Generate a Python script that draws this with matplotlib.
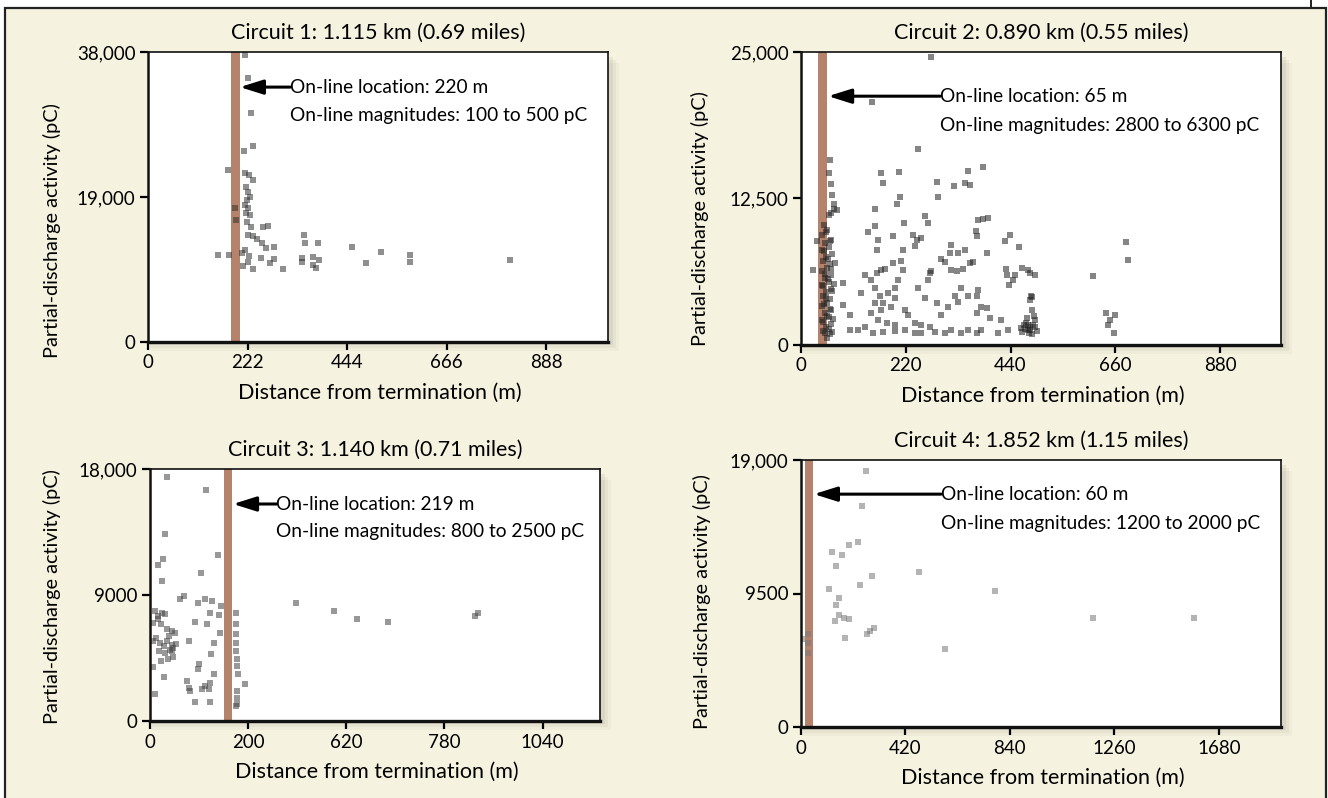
import matplotlib
matplotlib.use("Agg")
import matplotlib.pyplot as plt
from matplotlib.patches import Rectangle
from matplotlib.lines import Line2D

plt.rcParams["font.family"] = ["Lato", "DejaVu Sans"]

W, H = 1328, 798
BEIGE = "#F6F2E0"
BAR = "#B5836B"

# ---- circuit 1 ----
c1_title = "Circuit 1: 1.115 km (0.69 miles)"
c1_x = [216, 222, 230, 235, 214, 178, 216, 226, 234, 219, 222, 228, 220, 216, 224, 219, 228,
        194, 196, 220, 229, 257, 268, 222, 234, 244, 254, 263, 280, 347, 350, 380, 216, 209,
        226, 157, 181, 251, 271, 281, 300, 213, 235, 224, 344, 369, 381, 375, 369, 343,
        454, 520, 487, 585, 585, 808]
c1_y = [37600, 34640, 29960, 25680, 25030, 22540, 22180, 21880, 21220, 20350, 19700, 19040,
        18600, 17950, 17510, 16860, 16640, 17510, 16000, 15770, 15110, 15020, 15200, 14020,
        13890, 13450, 12930, 12270, 12400, 14020, 12930, 13010, 12050, 11620, 11260, 11400,
        11400, 10960, 10390, 10830, 9610, 9950, 9600, 10530, 10530, 11180, 10740, 9650, 10090,
        10960, 12500, 11800, 10300, 11400, 10500, 10700]

# ---- circuit 2 ----
c2_title = "Circuit 2: 0.890 km (0.55 miles)"
c2_x = [274, 150, 246, 168, 206, 173, 285, 322, 355, 350, 383, 208, 201, 288, 155, 260, 266,
        217, 372, 393, 155, 140, 159, 162, 194, 215, 239, 236, 253, 243, 316, 313, 330, 344,
        367, 369, 390, 428, 439, 458, 345, 382,
        169, 176, 159, 194, 211, 215, 274, 271, 295, 302, 316, 327, 341, 355, 362, 134, 148,
        89, 127, 89, 103, 155, 166, 173, 155, 183, 197, 190, 169, 197, 204,
        446, 449, 477, 491, 484, 421, 390, 397, 369, 372, 379, 369, 433, 436, 431, 464, 481,
        246, 267, 260, 285, 295, 309, 323, 330, 337, 351,
        148, 162, 180, 197, 218, 225, 239, 253,
        120, 152, 173, 197, 218, 239, 253, 281, 302, 316, 337, 351, 369, 379, 414, 435, 463,
        477, 103, 134, 271,
        473, 481, 477, 464, 492, 486, 481, 486, 481, 488, 470, 495, 485, 475, 490, 478, 492,
        468,
        614, 683, 687, 641, 649, 659, 645, 657,
        60, 58, 63, 66, 70, 75, 62, 58, 70, 26, 33,
        48, 55, 45, 62, 50, 58, 44, 65, 52, 47, 60, 55, 45, 63, 50, 58, 44, 62, 52, 47, 60,
        55, 45, 63, 50, 58, 44, 62, 52, 47, 60, 55,
        52, 60, 48, 56, 64, 50, 57, 46, 66, 53, 49, 61, 54, 47, 59, 51, 65, 68, 70, 72]
c2_y = [24600, 20700, 16750, 14700, 14800, 13780, 13900, 13550, 13640, 14810, 15210, 12640,
        11990, 12640, 11600, 11040, 10420, 10420, 10700, 10850, 10130, 9620, 8130, 8990, 9280,
        8080, 8420, 9420, 9130, 8990, 8560, 7850, 7850, 8080, 9700, 9280, 7850, 8850, 9420,
        8360, 13780, 10780,
        6420, 6480, 6140, 7000, 7130, 6420, 6280, 6140, 7330, 7050, 6420, 6280, 6480, 7000,
        7050, 5990, 5560, 5280, 4420, 3430, 2570, 4850, 4140, 3570, 3570, 4420, 4000, 3280,
        3000, 4850, 5560,
        5570, 5990, 6420, 5990, 4140, 2140, 3140, 2290, 4140, 4710, 3280, 2710, 5990, 5140,
        6500, 6590, 6160,
        4850, 5570, 4000, 3570, 2570, 3280, 4140, 3710, 4850, 4140,
        2710, 2140, 1860, 1720, 3000, 2570, 1860, 1720,
        1290, 1000, 1140, 1230, 1290, 1060, 1000, 1140, 1000, 1290, 1060, 1290, 1000, 1290,
        1000, 1290, 1430, 1720, 1290, 1570, 1570,
        1880, 1540, 1280, 1110, 2140, 3000, 3850, 4110, 1280, 1700, 1400, 1200, 900, 2300,
        2500, 1000, 1500, 1700,
        5850, 8790, 7220, 2740, 2140, 2570, 1710, 1030,
        15800, 14700, 13700, 12800, 12000, 11500, 11300, 11100, 11600, 6420, 8850,
        10200, 9800, 9400, 9000, 8700, 8400, 8100, 7800, 7500, 7200, 6900, 6600, 6300, 6000,
        5700, 5400, 5100, 4800, 4500, 4200, 3900, 3600, 3300, 3000, 2700, 2400, 2100, 1800,
        1500, 1200, 900, 600,
        9600, 8900, 8000, 7300, 6500, 6100, 5600, 5000, 4600, 4000, 3500, 3100, 2500, 2000,
        1400, 1000, 1100, 2200, 5200, 7000]

# ---- circuit 3 ----
c3_title = "Circuit 3: 1.140 km (0.71 miles)"
c3_x = [46, 149, 40, 181, 34, 22, 31, 134, 89, 80, 127, 147, 165, 187, 13, 31, 40, 22, 9, 159,
        183, 120, 150, 45, 58, 67, 185, 9, 27, 45, 58, 36, 54, 62, 103, 169, 40, 58, 49, 162,
        9, 36, 129, 126, 169, 98, 102, 107, 147, 156, 138, 160, 13, 120, 160,
        20, 28, 50, 15, 70, 25, 60, 30,
        227, 227, 227, 227, 227, 230, 230, 234, 252, 230, 230, 230, 227,
        387, 488, 549, 631, 862, 870]
c3_y = [17450, 16520, 13350, 11850, 11560, 11130, 10010, 10540, 8940, 8700, 8410, 8700, 8580,
        8180, 7870, 7750, 7630, 7270, 7030, 7750, 7580, 7080, 6960, 6550, 6440, 6320, 6320,
        5700, 5600, 5700, 5450, 5350, 5100, 5200, 5720, 5600, 4890, 5000, 4410, 4770, 3880,
        3170, 4050, 3690, 3340, 2860, 2380, 2140, 2500, 2260, 2260, 2740, 1900, 1360, 1360,
        7500, 6900, 6100, 5900, 5500, 5000, 4600, 4300,
        7680, 6910, 6200, 5600, 5000, 4410, 3930, 3340, 2620, 2140, 1670, 1190, 1070,
        8420, 7850, 7270, 7060, 7490, 7700]
c3_ticks = [0, 260, 520, 780, 1040]
c3_ticklabels = ["0", "200", "620", "780", "1040"]

# ---- circuit 4 ----
c4_title = "Circuit 4: 1.852 km (1.15 miles)"
c4_x = [263, 246, 192, 230, 124, 165, 140, 475, 286, 239, 111, 151, 140, 782, 151, 171, 192,
        138, 266, 279, 293, 176, 581, 30, 30, 30, 5, 1176, 1582]
c4_y = [18210, 15730, 12920, 13160, 12440, 12250, 11440, 11060, 10770, 10130, 9820, 9150,
        8680, 9680, 7960, 7790, 7720, 7560, 6600, 6840, 7010, 6320, 5530, 6600, 6000, 5300,
        6250, 7790, 7790]

panels = [
    dict(title=c1_title, x=c1_x, y=c1_y, xlim=1026, ylim=38000,
         xticks=[0, 222, 444, 666, 888], xlabels=None,
         yticks=[0, 19000, 38000], ylabels=["0", "19,000", "38,000"],
         bar=(185, 205), arrow=(317, 205, 33400), line2=29700,
         txt=("On-line location: 220 m", "On-line magnitudes: 100 to 500 pC"),
         box=(148, 608, 52, 342), col="#333333"),
    dict(title=c2_title, x=c2_x, y=c2_y, xlim=1008, ylim=25000,
         xticks=[0, 220, 440, 660, 880], xlabels=None,
         yticks=[0, 12500, 25000], ylabels=["0", "12,500", "25,000"],
         bar=(35, 54), arrow=(292, 57, 21230), line2=18750,
         txt=("On-line location: 65 m", "On-line magnitudes: 2800 to 6300 pC"),
         box=(801, 1281, 52, 345), col="#222222"),
    dict(title=c3_title, x=c3_x, y=c3_y, xlim=1192, ylim=18000,
         xticks=c3_ticks, xlabels=c3_ticklabels,
         yticks=[0, 9000, 18000], ylabels=["0", "9000", "18,000"],
         bar=(196, 218), arrow=(335, 220, 15500), line2=13560,
         txt=("On-line location: 219 m", "On-line magnitudes: 800 to 2500 pC"),
         box=(150, 600, 469, 721), col="#444444"),
    dict(title=c4_title, x=c4_x, y=c4_y, xlim=1930, ylim=19000,
         xticks=[0, 420, 840, 1260, 1680], xlabels=None,
         yticks=[0, 9500, 19000], ylabels=["0", "9500", "19,000"],
         bar=(16, 50), arrow=(563, 52, 16570), line2=14500,
         txt=("On-line location: 60 m", "On-line magnitudes: 1200 to 2000 pC"),
         box=(801, 1281, 460, 727), col="#777777"),
]

fig = plt.figure(figsize=(W / 100, H / 100), dpi=100, facecolor="white")

# beige panel with outline
fig.patches.append(Rectangle((5 / W, -0.01), (1326 - 5) / W, (H - 8) / H + 0.01,
                             transform=fig.transFigure, facecolor=BEIGE,
                             edgecolor="#222222", linewidth=1.6, zorder=-5))
fig.lines.append(Line2D([1311 / W, 1311 / W], [1 - 8 / H, 1.0], transform=fig.transFigure,
                        color="#222222", linewidth=1.4))

for p in panels:
    l, r, t, b = p["box"]
    rect = [l / W, 1 - b / H, (r - l) / W, (b - t) / H]
    # soft drop shadow
    for k, a in [(9, 0.05), (6, 0.07), (3, 0.10)]:
        fig.patches.append(Rectangle((rect[0] + 2 / W, rect[1] - k / H), rect[2] + k / W,
                                     rect[3] - 2 / H, transform=fig.transFigure,
                                     facecolor="#7a7466", edgecolor="none", alpha=a, zorder=-4))
    ax = fig.add_axes(rect)
    ax.set_facecolor("white")
    ax.axvspan(*p["bar"], color=BAR, zorder=1, linewidth=0)
    ax.scatter(p["x"], p["y"], marker="s", s=22, color=p["col"], alpha=0.55,
               linewidths=0, zorder=2)
    ax.set_xlim(0, p["xlim"])
    ax.set_ylim(0, p["ylim"])
    ax.set_xticks(p["xticks"])
    ax.set_xticklabels(p["xlabels"] if p["xlabels"] else [str(v) for v in p["xticks"]])
    ax.set_yticks(p["yticks"])
    ax.set_yticklabels(p["ylabels"])
    ax.tick_params(labelsize=13.5, length=6, width=1.6, direction="out", pad=3)
    for side, lw in [("left", 1.8), ("bottom", 2.4), ("top", 1.2), ("right", 1.2)]:
        ax.spines[side].set_linewidth(lw)
        ax.spines[side].set_color("#111111")

    x0, x1, ya = p["arrow"]
    ax.annotate("", xy=(x1, ya), xytext=(x0, ya),
                arrowprops=dict(arrowstyle="-|>,head_length=0.7,head_width=0.22",
                                color="black", lw=2.2, mutation_scale=20,
                                shrinkA=0, shrinkB=0), zorder=3)
    ax.text(x0, ya, p["txt"][0], fontsize=13.8, ha="left", va="center", zorder=3)
    ax.text(x0, p["line2"], p["txt"][1], fontsize=13.8, ha="left", va="center", zorder=3)

    cx = (l + r) / 2
    fig.text(cx / W, 1 - (t - 19) / H, p["title"], fontsize=15.5, ha="center", va="center")
    fig.text((cx + 2) / W, 1 - (b + 51) / H, "Distance from termination (m)",
             fontsize=15.5, ha="center", va="center")

ylab_pos = [(52, 231), (700, 219), (52, 597), (702, 602)]
for (x, y) in ylab_pos:
    fig.text(x / W, 1 - y / H, "Partial-discharge activity (pC)", fontsize=14.3,
             rotation=90, ha="center", va="center")

fig.savefig("out.png", dpi=100, facecolor=fig.get_facecolor())
